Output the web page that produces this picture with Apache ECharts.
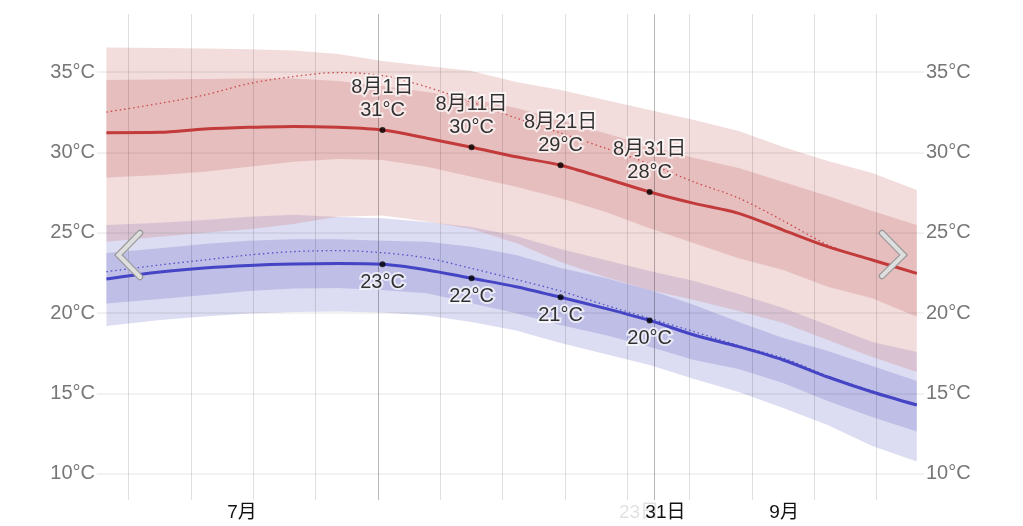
<!DOCTYPE html>
<html>
<head>
<meta charset="utf-8">
<script src="https://cdn.jsdelivr.net/npm/echarts@6/dist/echarts.min.js"></script>
<style>
html,body{margin:0;padding:0;background:#fff;}
#c{width:1023px;height:526px;}
</style>
</head>
<body>
<div id="c"></div>
<script>
// x = day offset from 7月1日 00:00 (31 = 8月1日, 62 = 9月1日)
const days = [0.5,6.5,11.5,16.5,21.5,26.5,31.5,36.5,41.5,46.5,51.5,56.5,61.5,66.5,71.5,76.5,81.5,86.5,91.5];

// daily high temperature (°C)
const highP90 = [36.52,36.49,36.46,36.41,36.34,36.12,35.68,35.37,35.06,34.38,33.88,33.26,32.64,32.01,31.33,30.34,29.47,28.72,27.66];
const highP75 = [34.50,34.53,34.56,34.60,34.60,34.44,34.13,33.76,33.32,32.76,32.01,31.20,30.40,29.65,29.03,28.16,27.29,26.36,25.49];
const highAvg = [31.23,31.25,31.45,31.56,31.62,31.56,31.39,30.88,30.32,29.73,29.20,28.39,27.54,26.83,26.21,25.17,24.14,23.31,22.48];
const highP25 = [28.44,28.59,28.80,29.11,29.42,29.59,29.53,29.11,28.49,27.87,27.15,26.31,25.28,24.35,23.41,22.69,21.65,20.93,19.78];
const highP10 = [24.45,24.76,25.01,25.22,25.55,26.00,26.08,25.70,25.24,24.37,23.18,22.25,21.44,20.82,20.14,19.39,18.33,17.28,16.34];
const feelsHigh = [32.51,33.05,33.57,34.28,34.72,34.97,34.78,34.07,33.13,32.14,31.21,30.27,29.28,28.16,27.16,25.75,24.25,23.28,22.44];

// daily low temperature (°C)
const lowP90 = [25.49,25.63,25.80,26.00,26.13,25.98,25.90,25.67,25.36,24.80,23.99,23.31,22.62,22.00,21.19,20.32,19.27,18.21,17.59];
const lowP75 = [23.74,24.04,24.30,24.51,24.60,24.60,24.51,24.45,24.14,23.62,22.81,22.19,21.44,20.51,19.45,18.46,17.65,16.72,15.78];
const lowAvg = [22.13,22.56,22.81,22.97,23.06,23.09,23.04,22.69,22.17,21.65,20.99,20.30,19.55,18.64,17.92,17.09,16.03,15.10,14.29];
const lowP25 = [20.60,20.88,21.13,21.38,21.54,21.57,21.44,21.24,20.62,19.99,19.27,18.64,17.92,17.09,16.53,15.66,14.54,13.54,12.64];
const lowP10 = [19.20,19.58,19.79,19.98,20.07,20.11,20.04,19.86,19.45,18.93,18.15,17.46,16.78,15.91,15.10,14.10,13.05,11.74,10.78];
const feelsLow = [22.58,23.00,23.31,23.62,23.83,23.89,23.76,23.43,22.79,22.10,21.38,20.51,19.68,18.85,17.99,17.21,16.09,15.16,14.32];

// annotated days (indices into days) and their labels
const annIdx = [6,8,10,12];
const annLabels = ['8月1日','8月11日','8月21日','8月31日'];

// axis ticks / labels
const yTicks = [10,15,20,25,30,35];
const weekLines = [3,10,17,24,38,45,52,59,66,73,80,87];
const monthLines = [31,62];
const xLabelValues = [15.72,60.3,63.27,76.6];
const xLabelTexts = ['7月','23日','31日','9月'];
const xLabelFaint = [false,true,false,false];

const FONT = "'Liberation Sans','Noto Sans CJK JP',Arial,sans-serif";

function pts(arr){ return days.map((d,i)=>[d, arr[i]]); }
function band(lo, hi, color, z){
  return {
    type:'custom', z:z, silent:true, clip:true,
    data:[[days[0], lo[0]]], encode:{x:0, y:1},
    renderItem:function(params, api){
      const top = days.map((d,i)=>api.coord([d, hi[i]]));
      const bot = days.map((d,i)=>api.coord([d, lo[i]])).reverse();
      return {type:'polygon', shape:{points:top.concat(bot)}, style:{fill:color}};
    }
  };
}

const series = [];
series.push(band(lowP10, lowP90, 'rgba(138,138,212,0.30)', 1));
series.push(band(lowP25, lowP75, 'rgba(138,138,212,0.37)', 1));
series.push(band(highP10, highP90, 'rgba(212,138,138,0.30)', 1));
series.push(band(highP25, highP75, 'rgba(212,138,138,0.37)', 1));

// grid lines
series.push({
  type:'line', data:[[0,20]], symbol:'none', lineStyle:{opacity:0}, silent:true, z:3,
  markLine:{
    silent:true, symbol:'none', label:{show:false}, animation:false,
    lineStyle:{color:'rgba(0,0,0,0.12)', type:'solid', width:1},
    data:[
      ...weekLines.map(v=>({xAxis:v})),
      ...monthLines.map(v=>({xAxis:v, lineStyle:{color:'rgba(0,0,0,0.28)', type:'solid', width:1}})),
      ...yTicks.map(v=>({yAxis:v, lineStyle:{color:'rgba(0,0,0,0.07)', type:'solid', width:1.5}}))
    ]
  }
});

// feels-like dotted lines
series.push({type:'line', data:pts(feelsHigh), symbol:'none', smooth:0.3, z:4,
  lineStyle:{color:'rgba(200,60,60,0.9)', width:1.3, type:[1.5,3]}});
series.push({type:'line', data:pts(feelsLow), symbol:'none', smooth:0.3, z:4,
  lineStyle:{color:'rgba(70,70,200,0.9)', width:1.3, type:[1.5,3]}});

// average lines
series.push({type:'line', data:pts(highAvg), symbol:'none', smooth:0.3, z:5,
  lineStyle:{color:'#c23a3a', width:3}});
series.push({type:'line', data:pts(lowAvg), symbol:'none', smooth:0.3, z:5,
  lineStyle:{color:'#4444c4', width:3}});

const labelBase = {color:'#000', fontSize:20, fontFamily:FONT, lineHeight:23,
  textBorderColor:'rgba(255,255,255,0.85)', textBorderWidth:4};

series.push({type:'scatter', z:6, symbolSize:6, itemStyle:{color:'#000'},
  data:annIdx.map((k,j)=>({value:[days[k], highAvg[k]], name:annLabels[j]})),
  label:Object.assign({show:true, position:'top', distance:5,
    formatter:p=>p.name+'\n'+Math.round(p.value[1])+'°C'}, labelBase)
});
series.push({type:'scatter', z:6, symbolSize:6, itemStyle:{color:'#000'},
  data:annIdx.map((k,j)=>({value:[days[k], lowAvg[k]], name:annLabels[j]})),
  label:Object.assign({show:true, position:'bottom', distance:4,
    formatter:p=>Math.round(p.value[1])+'°C'}, labelBase)
});

const yAxisBase = {
  type:'value', min:8.38, max:38.61,
  axisLine:{show:false}, splitLine:{show:false},
  axisTick:{show:false, customValues:yTicks},
  axisLabel:{customValues:yTicks, formatter:v=>v+'°C', color:'#777', fontSize:20, fontFamily:FONT, margin:2}
};

const chart = echarts.init(document.getElementById('c'), null, {renderer:'canvas'});
chart.setOption({
  animation:false,
  backgroundColor:'#fff',
  grid:{left:97, right:99, top:14, bottom:26, containLabel:false},
  xAxis:{
    type:'value', min:-0.56, max:92.31,
    axisLine:{show:false}, axisTick:{show:false, customValues:xLabelValues}, splitLine:{show:false},
    axisLabel:{
      customValues:xLabelValues, margin:3, fontSize:19, fontFamily:FONT, color:'#111', hideOverlap:false,
      formatter:v=>{
        const i = xLabelValues.indexOf(v);
        if(i<0) return '';
        return xLabelFaint[i] ? '{f|'+xLabelTexts[i]+'}' : xLabelTexts[i];
      },
      rich:{f:{color:'rgba(0,0,0,0.12)', fontSize:19, fontFamily:FONT}}
    }
  },
  yAxis:[Object.assign({position:'left'}, yAxisBase), Object.assign({position:'right'}, yAxisBase)],
  series:series,
  graphic:[
    {type:'polyline', shape:{points:[[140,233],[118.5,255],[140,277]]}, z:100,
      style:{stroke:'#9a9a9a', lineWidth:6.5, fill:null, lineCap:'round', lineJoin:'miter'}},
    {type:'polyline', shape:{points:[[140,233],[118.5,255],[140,277]]}, z:101,
      style:{stroke:'#dedede', lineWidth:4, fill:null, lineCap:'round', lineJoin:'miter'}},
    {type:'polyline', shape:{points:[[882,233],[903.5,255],[882,276]]}, z:100,
      style:{stroke:'#9a9a9a', lineWidth:6.5, fill:null, lineCap:'round', lineJoin:'miter'}},
    {type:'polyline', shape:{points:[[882,233],[903.5,255],[882,276]]}, z:101,
      style:{stroke:'#dedede', lineWidth:4, fill:null, lineCap:'round', lineJoin:'miter'}}
  ]
});
</script>
</body>
</html>
